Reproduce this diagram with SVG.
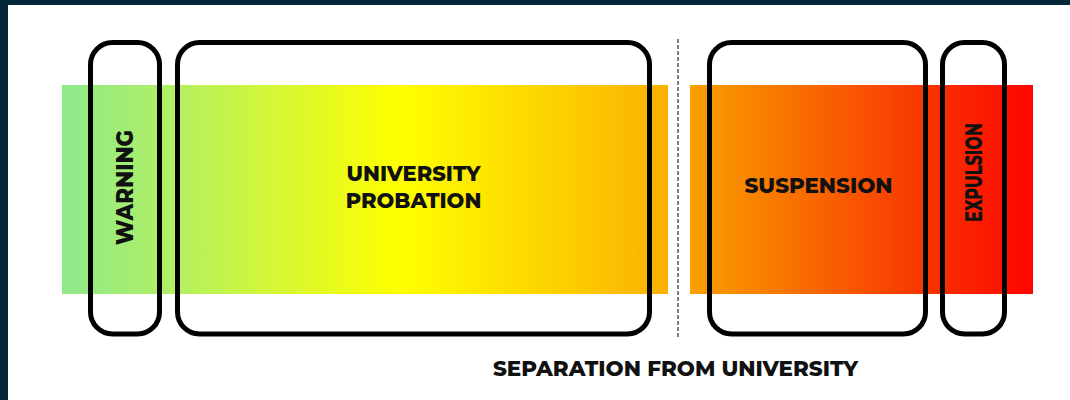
<svg xmlns="http://www.w3.org/2000/svg" width="1070" height="400" viewBox="0 0 1070 400">
  <defs>
    <linearGradient id="scale" gradientUnits="userSpaceOnUse" x1="62" y1="0" x2="1033" y2="0">
      <stop offset="0" stop-color="#8ee88c"/>
      <stop offset="0.12" stop-color="#b4f060"/>
      <stop offset="0.35" stop-color="#ffff00"/>
      <stop offset="0.62" stop-color="#fbb000"/>
      <stop offset="0.655" stop-color="#f99c00"/>
      <stop offset="0.9" stop-color="#f83000"/>
      <stop offset="1" stop-color="#ff0400"/>
    </linearGradient>
    <style>
      .box { fill: none; stroke: #000; stroke-width: 5; }
      .label { font-family: Montserrat, "Inter", "Liberation Sans", sans-serif; font-weight: 800; font-size: 21px; fill: #111; text-anchor: middle; }
      .tall { font-size: 23px; }
      .divider { stroke: #555; stroke-width: 1.5; stroke-dasharray: 4 2; }
    </style>
  </defs>

  <!-- frame -->
  <rect x="0" y="0" width="1070" height="400" fill="#ffffff"/>
  <rect x="0" y="0" width="1070" height="5" fill="#03263a"/>
  <rect x="0" y="0" width="8" height="400" fill="#03263a"/>

  <!-- severity bands -->
  <g id="bands">
    <rect x="62" y="85" width="606" height="209" fill="url(#scale)"/>
    <rect x="690" y="85" width="343" height="209" fill="url(#scale)"/>
  </g>

  <g id="connectors">
    <line class="divider" x1="678" y1="39" x2="678" y2="337"/>
  </g>

  <g id="warning">
    <rect class="box" x="90.5" y="42.5" width="69" height="291.5" rx="22"/>
    <text class="label tall" transform="translate(133 187.5) rotate(-90)" textLength="115" lengthAdjust="spacingAndGlyphs">WARNING</text>
  </g>

  <g id="probation">
    <rect class="box" x="177.5" y="42.5" width="472" height="291.5" rx="22"/>
    <text class="label" x="413.5" y="181">UNIVERSITY</text>
    <text class="label" x="413.5" y="208">PROBATION</text>
  </g>

  <g id="suspension">
    <rect class="box" x="709.5" y="42.5" width="216" height="291.5" rx="22"/>
    <text class="label" x="818.5" y="193" textLength="148" lengthAdjust="spacingAndGlyphs">SUSPENSION</text>
  </g>

  <g id="expulsion">
    <rect class="box" x="942.5" y="42.5" width="62" height="291.5" rx="22"/>
    <text class="label tall" transform="translate(982 172.5) rotate(-90)" textLength="99" lengthAdjust="spacingAndGlyphs">EXPULSION</text>
  </g>

  <g id="separation">
    <text class="label" x="675.5" y="376" textLength="365" lengthAdjust="spacingAndGlyphs">SEPARATION FROM UNIVERSITY</text>
  </g>
</svg>
